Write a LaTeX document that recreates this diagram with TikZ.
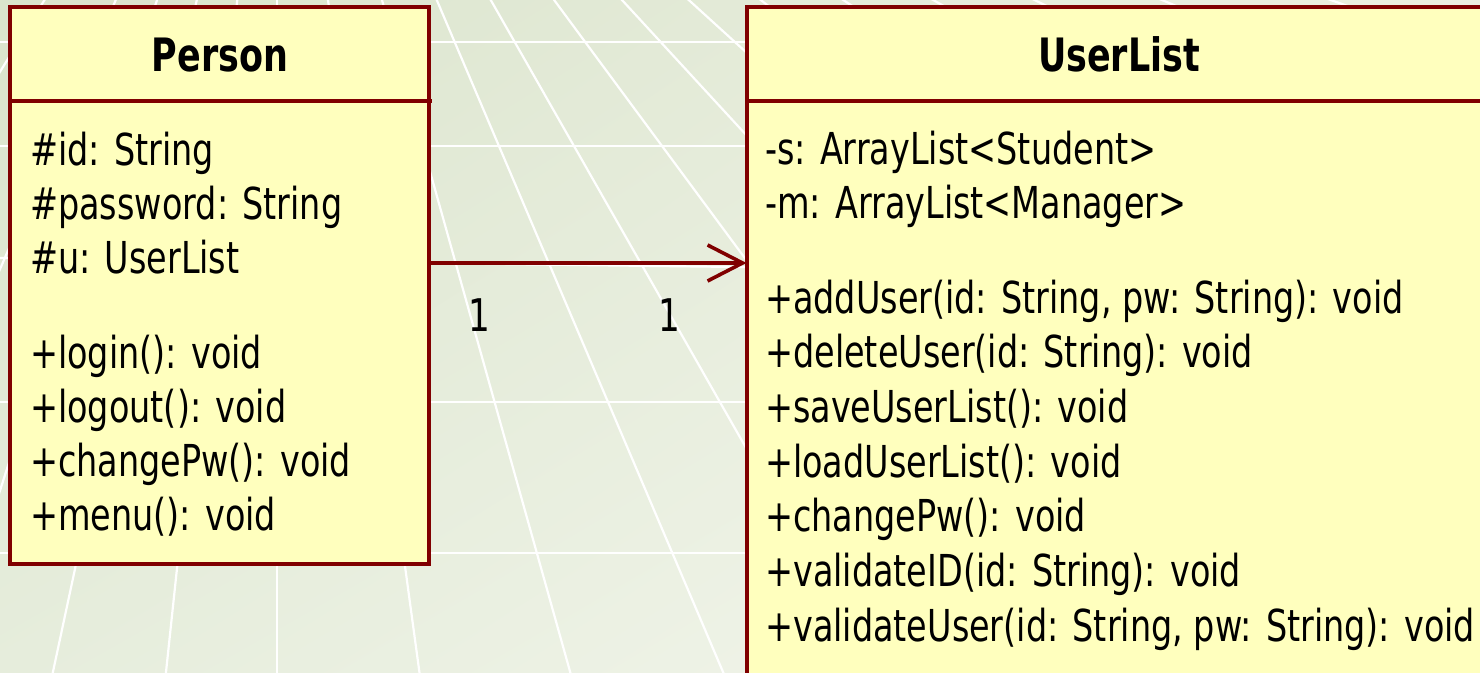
\documentclass[tikz,border=0pt]{standalone}
\usepackage{fontspec}
\setmainfont{DejaVu Sans}[FakeStretch=0.76]
\usetikzlibrary{arrows.meta,shadings}
\definecolor{umlred}{RGB}{128,0,0}
\definecolor{umlfill}{RGB}{255,255,190}
\definecolor{bgA}{RGB}{218,228,204}
\definecolor{bgB}{RGB}{236,240,226}
\definecolor{bgC}{RGB}{230,237,220}
\definecolor{bgD}{RGB}{246,248,240}
\tikzset{
  bgline/.style={white, line width=2.2pt},
  umlbox/.style={draw=umlred, fill=umlfill, line width=4pt, inner sep=0pt, outer sep=0pt},
  sepline/.style={umlred, line width=4pt},
  member/.style={anchor=base west, inner sep=0pt, font=\fontsize{44}{54}\selectfont},
  classtitle/.style={anchor=base, inner sep=0pt, font=\fontsize{46}{54}\selectfont\bfseries},
  mult/.style={anchor=base, inner sep=0pt, font=\fontsize{45}{54}\selectfont},
  assoc/.style={umlred, line width=3.6pt, -{Straight Barb[length=35pt,width=36pt]}},
}
\begin{document}
\begin{tikzpicture}[x=1pt,y=-1pt]
\useasboundingbox (0,0) rectangle (1480,672);
\begin{scope}
\clip (0,0) rectangle (1480,672);
% background
\shade[upper left=bgA, upper right=bgB, lower left=bgC, lower right=bgD] (0,0) rectangle (1480,672);
\coordinate (vp) at (277,-375);
\foreach \t in {-0.62,-0.43,-0.32,-0.214,-0.106,0,0.136,0.28,0.426,0.57,0.739,0.92,1.098,1.29,1.51,1.75,2.02,2.36,2.81}
  \draw[bgline] (vp) -- ({277+\t*1100},725);
\foreach \yy in {42,146,402,553}
  \draw[bgline] (0,\yy) -- (1480,\yy);
\draw[bgline] (0,258) -- (1480,276);

% class boxes
\node[umlbox, anchor=north west, minimum width=419pt, minimum height=557pt] (person) at (10,7) {};
\node[umlbox, anchor=north west, minimum width=747pt, minimum height=700pt] (userlist) at (746.5,7) {};
\coordinate (hdr) at (0,101);
\draw[sepline] (person.west |- hdr) -- ([xshift=3pt]person.east |- hdr);
\draw[sepline] (userlist.west |- hdr) -- (userlist.east |- hdr);

% titles
\node[classtitle] (persontitle) at (220,71) {Person};
\node[classtitle] (usertitle) at (1119,71) {UserList};

% Person members
\foreach \txt [count=\i] in {{\#id: String},{\#password: String},{\#u: UserList}}
  \node[member] (pa\i) at (30,{165+(\i-1)*54}) {\txt};
\foreach \txt [count=\i] in {{+login(): void},{+logout(): void},{+changePw(): void},{+menu(): void}}
  \node[member] (po\i) at (30,{368+(\i-1)*54.3}) {\txt};

% UserList members
\foreach \txt [count=\i] in {{-s: ArrayList<Student>},{-m: ArrayList<Manager>}}
  \node[member] (ua\i) at (765,{164+(\i-1)*54}) {\txt};
\foreach \txt [count=\i] in {{+addUser(id: String, pw: String): void},{+deleteUser(id: String): void},{+saveUserList(): void},{+loadUserList(): void},{+changePw(): void},{+validateID(id: String): void},{+validateUser(id: String, pw: String): void}}
  \node[member] (uo\i) at (765,{313+(\i-1)*54.67}) {\txt};

% association
\coordinate (arr) at (0,263);
\draw[assoc] (person.east |- arr) -- (userlist.west |- arr);
\node[mult] (m1) at (479,331) {1};
\node[mult] (m2) at (669,331) {1};
\end{scope}
\end{tikzpicture}
\end{document}
